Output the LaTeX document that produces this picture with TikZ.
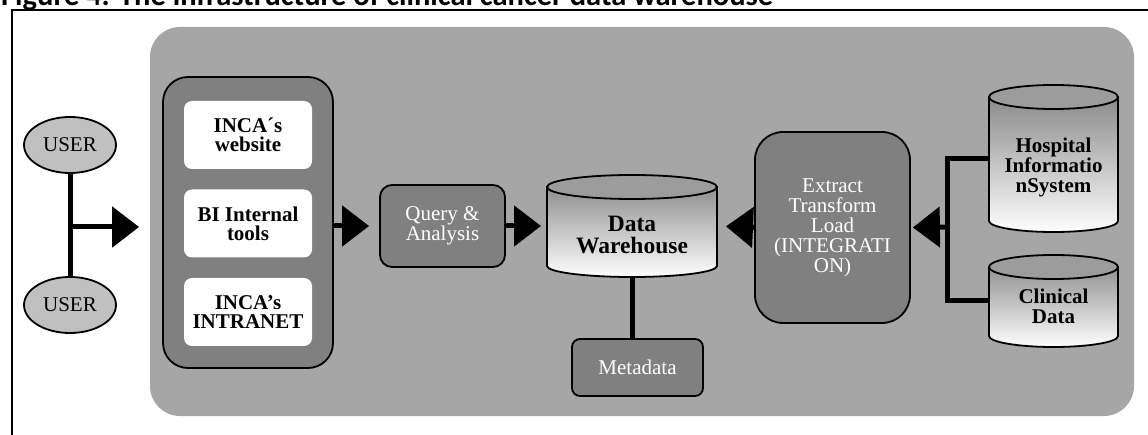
\documentclass[tikz,border=0pt]{standalone}
\usepackage{fontspec}
\setmainfont{Liberation Serif}
\newfontfamily\titlefont{Carlito}
\usetikzlibrary{arrows.meta,shapes.geometric}

\definecolor{panelgray}{HTML}{A6A6A6}
\definecolor{boxgray}{HTML}{808080}
\definecolor{usergray}{HTML}{C0C0C0}
\definecolor{lidgray}{HTML}{9C9C9C}

\tikzset{
  darkbox/.style={draw, line width=1.8pt, fill=boxgray, text=white, align=center, inner sep=2pt, font=\fontsize{21}{20}\selectfont},
  portalbox/.style={fill=white, rounded corners=8pt, minimum width=128pt, minimum height=68pt, align=center, font=\fontsize{21}{19}\selectfont\bfseries},
  user/.style={ellipse, draw, line width=1.8pt, fill=usergray, minimum width=92pt, minimum height=56pt, inner sep=0pt, font=\fontsize{21}{20}\selectfont},
  dbtext/.style={align=center, inner sep=0pt, font=\fontsize{21}{20}\selectfont\bfseries},
  conn/.style={line width=5pt},
  bigarrow/.style={-{Triangle[length=27pt,width=40pt]}},
  cyl/.style n args={2}{minimum width=#1, minimum height=#2, inner sep=0pt, outer sep=0pt,
    path picture={
      \draw[line width=1.8pt, top color=boxgray, bottom color=white]
        ([shift={(1pt,-13pt)}]path picture bounding box.north west)
        -- ([shift={(1pt,12pt)}]path picture bounding box.south west)
        arc[start angle=180, end angle=360, x radius={#1/2-1pt}, y radius=11pt]
        -- ([shift={(-1pt,-13pt)}]path picture bounding box.north east) -- cycle;
      \draw[line width=1.8pt, fill=lidgray]
        ([yshift=-13pt]path picture bounding box.north) ellipse [x radius={#1/2-1pt}, y radius=12pt];
    }}
}

\begin{document}
\begin{tikzpicture}[x=1pt,y=1pt]
    \useasboundingbox (0,0) rectangle (1148,-435);

    \node (title) at (1,-6) [anchor=base west, inner sep=0pt, font=\titlefont\bfseries\fontsize{30.5}{30}\selectfont] {Figure 4. The infrastructure of clinical cancer data warehouse};
    \draw[line width=2pt] (12,-10) rectangle (1170,-460);
    \fill[panelgray, rounded corners=30pt] (150,-27) rectangle (1134,-416);

    \node (user1) at (70,-145) [user] {USER};
    \node (user2) at (70,-305) [user] {USER};

    \node (portal) at (248,-222.5) [darkbox, rounded corners=25pt, minimum width=170pt, minimum height=291pt] {};
    \node (website) at (248,-135) [portalbox] {INCA´s\\website};
    \node (bitools) at (248,-223.5) [portalbox] {BI Internal\\tools};
    \node (intranet) at (248,-312) [portalbox] {INCA’s\\INTRANET};

    \node (query) at (442.5,-226) [darkbox, rounded corners=12pt, minimum width=125pt, minimum height=82pt] {Query \&\\Analysis};

    \node (dw) at (632,-226) [cyl={172pt}{104pt}] {};
    \node (dwtext) at (632,-235) [dbtext, font=\fontsize{23.5}{22}\selectfont\bfseries] {Data\\Warehouse};

    \node (meta) at (637.5,-367.5) [darkbox, rounded corners=8pt, minimum width=131pt, minimum height=57pt] {Metadata};

    \node (etl) at (832.5,-227.5) [darkbox, rounded corners=28pt, minimum width=155pt, minimum height=191pt] {Extract\\Transform\\Load\\(INTEGRATI\\ON)};

    \node (his) at (1053.5,-158.5) [cyl={131pt}{149pt}] {};
    \node (histext) at (1053.5,-167) [dbtext] {Hospital\\Informatio\\nSystem};
    \node (clin) at (1053.5,-301) [cyl={131pt}{94pt}] {};
    \node (clintext) at (1053.5,-306) [dbtext] {Clinical\\Data};

    \coordinate (ujoin) at (70,-227);
    \coordinate (sjoin) at (947,-227);

    \draw[conn] (user1) -- (user2);
    \draw[conn, bigarrow, shorten >=23pt] (ujoin) -- (ujoin -| portal.west);
    \draw[conn, bigarrow, shorten >=10pt] (portal.east |- query.west) -- (query.west);
    \draw[conn, bigarrow, shorten >=5pt] (query.east) -- (dw.west);
    \draw[conn] (dw.south) -- (dw.south |- meta.north);
    \draw[conn, bigarrow, shorten >=8pt] (etl.west) -- (dw.east);
    \draw[conn] (his.west) -| (sjoin) |- (clin.west);
    \draw[conn, bigarrow, shorten >=2pt] (sjoin) -- (etl.east);
\end{tikzpicture}
\end{document}
